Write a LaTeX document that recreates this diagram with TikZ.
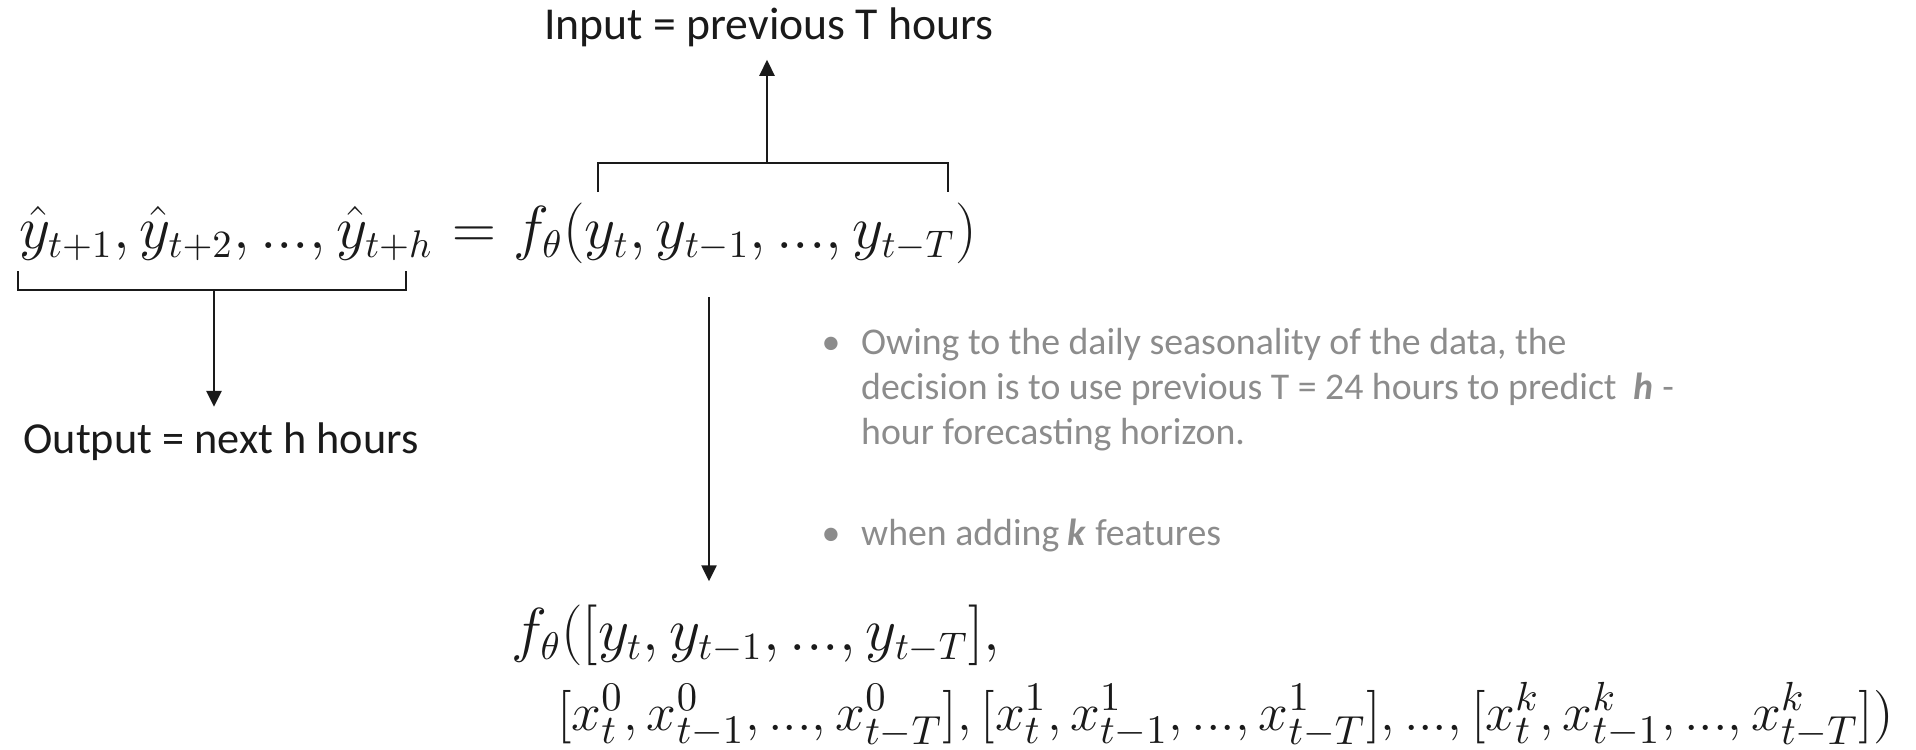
\documentclass[tikz,border=0pt]{standalone}
\usepackage[no-math]{fontspec}
\setmainfont{Carlito}
\usetikzlibrary{arrows.meta, positioning, calc}
\definecolor{cblack}{HTML}{1A1A1A}
\definecolor{cgrey}{HTML}{8C8C8C}
\tikzset{
  every picture/.style={line width=0.7pt},
  lbl/.style={font=\fontsize{#1}{15}\selectfont, text=cblack, inner sep=0pt},
  lbl/.default=12.8,
  eqn/.style={font=\fontsize{16}{19}\selectfont, text=cblack, inner sep=0pt, anchor=base west},
  note/.style={font=\fontsize{10.75}{12.8}\selectfont, text=cgrey, align=left, inner sep=0pt},
  arrow/.style={-{Triangle[length=1.6mm, width=1.5mm]}, draw=cblack},
  brace/.style={draw=cblack},
}

\begin{document}
\begin{tikzpicture}
  \useasboundingbox (0,0) rectangle (19.16,7.49);
  % forecasting equation
  \node[eqn] (lhs) at (0.18,5.01) {$\hat{y}_{t+1}, \hat{y}_{t+2}, ..., \hat{y}_{t+h}$};
  \node[eqn] (rhs) at (lhs.base east) {${}= f_\theta(y_t, y_{t-1}, ..., y_{t-T})$};
  % input bracket
  \draw[brace] (5.98,5.57) |- (9.48,5.86) -- (9.48,5.57);
  \coordinate (inmid) at (7.67,5.86);
  \node[lbl=13] (input) at (7.69,7.22) {Input = previous T hours};
  \draw[arrow, shorten >=1.2mm] (inmid) -- (inmid |- input.south);
  % output bracket
  \draw[brace] (0.18,4.78) |- (4.06,4.59) -- (4.06,4.78);
  \coordinate (outmid) at (2.14,4.59);
  \node[lbl=12.6] (output) at (2.21,3.07) {Output = next h hours};
  \draw[arrow, shorten >=1.5mm] (outmid) -- (outmid |- output.north);
  % notes
  \node[note, anchor=base] (d1) at (8.31,3.95) {\textbullet};
  \node[note, anchor=base west] (b1) at (8.60,3.05) {Owing to the daily seasonality of the data, the\\decision is to use previous T = 24 hours to predict \ \textbf{\textit{h}} -\\hour forecasting horizon.};
  \node[note, anchor=base] (d2) at (8.31,2.04) {\textbullet};
  \node[note, anchor=base west] (b2) at (8.60,2.04) {when adding \textbf{\textit{k}} features};
  % with k features
  \node[eqn] (g1) at (5.10,0.99) {$f_\theta([y_t, y_{t-1}, ..., y_{t-T}],$};
  \node[eqn, font=\fontsize{15.6}{19}\selectfont] (g2) at (5.56,0.19) {\scalebox{1.055}{$[x^{0}_{t}, x^{0}_{t-1}, ..., x^{0}_{t-T}], [x^{1}_{t}, x^{1}_{t-1}, ..., x^{1}_{t-T}], ..., [x^{k}_{t}, x^{k}_{t-1}, ..., x^{k}_{t-T}])$}};
  \coordinate (fsrc) at (7.09,4.52);
  \draw[arrow, shorten >=2.2mm] (fsrc) -- (fsrc |- g1.north);
\end{tikzpicture}
\end{document}
